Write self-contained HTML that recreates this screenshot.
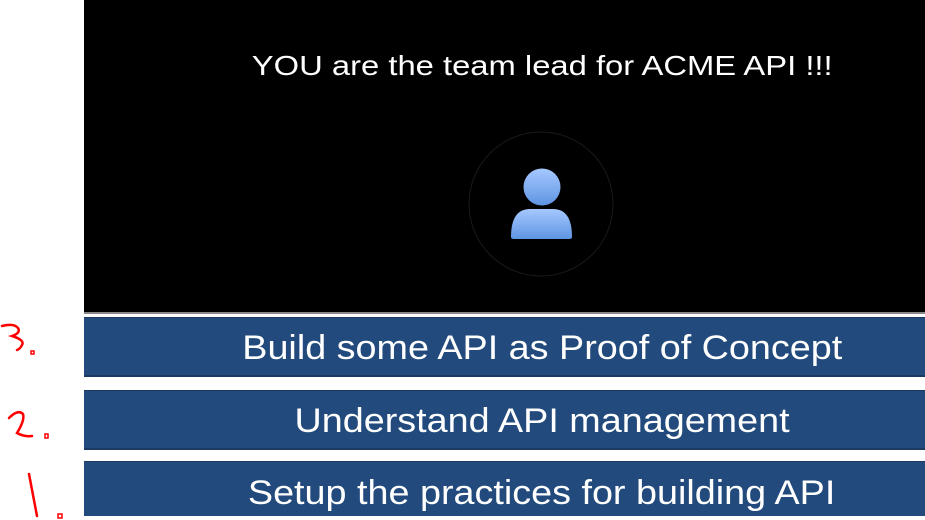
<!DOCTYPE html>
<html><head><style>
body{margin:0;width:925px;height:520px;background:#fff;position:relative;overflow:hidden;font-family:"Liberation Sans",sans-serif}
.blk{position:absolute;left:84px;top:0;width:841px;height:312px;background:#000;border-bottom:2px solid #888}
.t{position:absolute;left:0;width:1084px;text-align:center;color:#fff}
.t span{display:inline-block;transform:scaleX(1.17)}
.bar{position:absolute;left:84px;width:841px;background:#224a7c;border-top:1px solid #1a3a62;border-bottom:2px solid #1a3a62;overflow:hidden}
.bt{position:absolute;left:0;width:1084px;text-align:center;color:#fff;font-size:34px}
.bt span{display:inline-block;transform:scaleX(1.11)}
</style></head><body>
<div class="blk"></div>
<div class="t" style="top:50px;font-size:28px"><span>YOU are the team lead for ACME API !!!</span></div>
<svg style="position:absolute;left:0;top:0" width="925" height="520">
<defs><linearGradient id="g" x1="0" y1="0" x2="0" y2="1"><stop offset="0" stop-color="#a6c8ff"/><stop offset="1" stop-color="#5f95e3"/></linearGradient></defs>
<circle cx="541" cy="204" r="72" fill="none" stroke="#1a1a1a" stroke-width="1"/>
<circle cx="542" cy="187" r="18.5" fill="url(#g)"/>
<path d="M511 237 Q511 209 530 209 L553 209 Q572 209 572 237 Q572 239 569 239 L514 239 Q511 239 511 237Z" fill="url(#g)"/>
<g fill="none" stroke="#f00" stroke-width="2.5" stroke-linecap="round">
<path d="M2 326 Q14 323 18 328 Q21 333 12 336 Q25 340 22 345 Q20 349 17 350"/>
<path d="M31 351 h3 v3 h-3z" stroke-width="1.5"/>
<path d="M9 418 Q18 409 23 414 Q25 420 17 433 Q24 437 32 436"/>
<path d="M45 434 h3 v4 h-3z" stroke-width="1.5"/>
<path d="M29 474 L37 516"/>
<path d="M58 514 h4 v4 h-4z" stroke-width="1.5"/>
</g>
</svg>
<div class="bar" style="top:317px;height:57px"></div>
<div class="bt" style="top:317px;line-height:62px"><span>Build some API as Proof of Concept</span></div>
<div class="bar" style="top:390px;height:57px"></div>
<div class="bt" style="top:390px;line-height:62px"><span>Understand API management</span></div>
<div class="bar" style="top:461px;height:54px;border-bottom:none"></div>
<div class="bt" style="top:461px;line-height:64px;height:54px;overflow:hidden"><span>Setup the practices for building API</span></div>
</body></html>
